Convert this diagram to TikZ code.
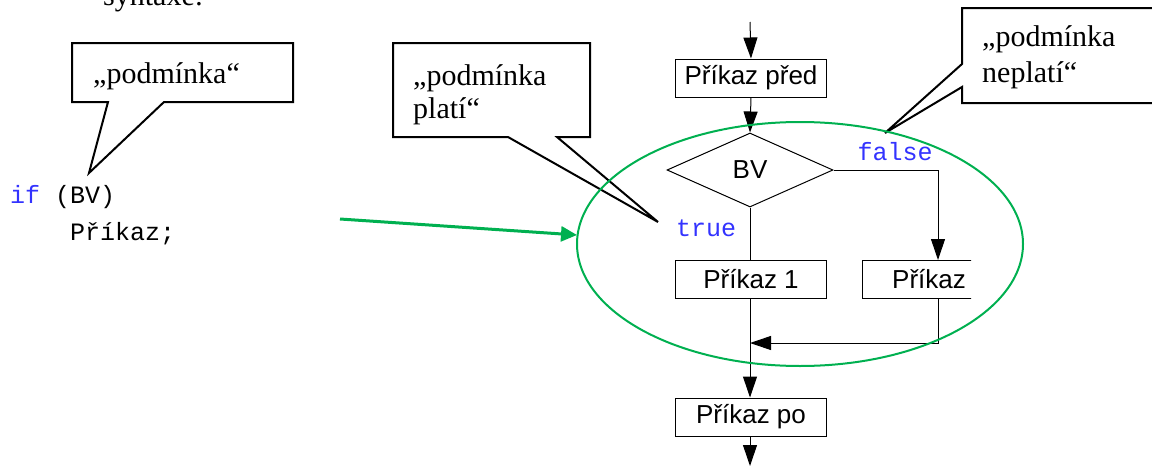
\documentclass[tikz,border=0pt]{standalone}
\usepackage{fontspec}
\setmainfont{Liberation Serif}
\newfontfamily\sansf{Liberation Sans}
\newfontfamily\monof{Liberation Mono}
\usetikzlibrary{arrows.meta,shapes.geometric}
\definecolor{kwblue}{RGB}{51,51,255}
\definecolor{loopgreen}{RGB}{0,176,80}

\begin{document}
\begin{tikzpicture}[x=1pt,y=-1pt,
  serif/.style={font=\fontsize{30}{34}\selectfont,inner sep=0pt},
  code/.style={font=\monof\fontsize{25}{28}\selectfont,inner sep=0pt},
  flowbox/.style={draw,line width=1pt,inner sep=0pt,minimum width=151pt,minimum height=38pt,
    font=\sansf\fontsize{26}{30}\selectfont},
  decision/.style={draw,line width=1pt,shape=diamond,aspect=2.24,inner sep=0pt,
    minimum width=166pt,minimum height=74pt,font=\sansf\fontsize{26}{30}\selectfont},
  flow/.style={line width=1pt},
  arr/.style={flow,-{Triangle[length=21pt,width=14pt]}},
  callout/.style={draw,line width=2pt,fill=white,line join=miter},
  loopmark/.style={draw=loopgreen,line width=2pt},
  looparrow/.style={draw=loopgreen,line width=3pt,-{Triangle[length=16pt,width=15pt]},color=loopgreen}
]
\useasboundingbox (0,0) rectangle (1152,466);
\clip (0,0) rectangle (1152,466);

% heading line, partly above the page edge
\node[serif,anchor=base west] (title) at (103,5) {syntaxe:};

% source code
\node[code,anchor=base west,text=kwblue] (kwif) at (10,203) {if};
\node[code,anchor=base west] (cond) at (55,203) {(BV)};
\node[code,anchor=base west] (stmt) at (70,240) {Příkaz;};

% callout: condition
\path[callout] (72,43) -- (293,43) -- (293,102) -- (164,102) -- (89,173) -- (108,102) -- (72,102) -- cycle;
\node[serif,anchor=base west] (c1) at (93,83) {„podmínka“};

% callout: condition holds
\path[callout] (393,43) -- (590,43) -- (590,137) -- (557,137) -- (658,222) -- (508,137) -- (393,137) -- cycle;
\node[serif,anchor=base west] (c2a) at (413,85) {„podmínka};
\node[serif,anchor=base west] (c2b) at (413,118) {platí“};

% callout: condition does not hold
\path[callout] (962,8) -- (1160,8) -- (1160,103) -- (962,103) -- (962,87) -- (885,133) -- (962,64) -- cycle;
\node[serif,anchor=base west] (c3a) at (982,46) {„podmínka};
\node[serif,anchor=base west] (c3b) at (982,82) {neplatí“};

% flowchart
\coordinate (start) at (750,22);
\node[flowbox] (pred) at (751,78) {Příkaz před};
\node[decision] (bv) at (750,170) {BV};
\node[flowbox] (p1) at (751,279.5) {Příkaz 1};
\begin{scope}
  \clip (850,250) rectangle (971,310);
  \node[flowbox] (p2) at (938,279.5) {};
\end{scope}
\node[anchor=base west,inner sep=0pt,font=\sansf\fontsize{26}{30}\selectfont] (p2text) at (892,288.8) {Příkaz};
\node[flowbox] (po) at (751,417) {Příkaz po};
\coordinate (merge) at (750,343);
\coordinate (finish) at (750,466);

\draw[arr] (start) -- (pred.south |- pred.north);
\draw[arr] (pred.south) -- (bv.north);
\draw[flow] (bv.south) -- (bv.south |- p1.north);
\draw[arr] (bv.east) -| (p2.north);
\draw[arr] (p2.south) |- (merge);
\draw[arr] (bv.south |- p1.south) -- (bv.south |- po.north);
\draw[arr] (bv.south |- po.south) -- (finish);

\node[code,text=kwblue] (lfalse) at (895,152) {false};
\node[code,text=kwblue] (ltrue) at (706,228) {true};

% highlighted branch
\draw[loopmark] (800,244) ellipse [x radius=223pt, y radius=122pt];
\coordinate (ptr) at (340,219);
\coordinate (ell) at (577,235);
\draw[looparrow] (ptr) -- (ell);
\end{tikzpicture}
\end{document}
